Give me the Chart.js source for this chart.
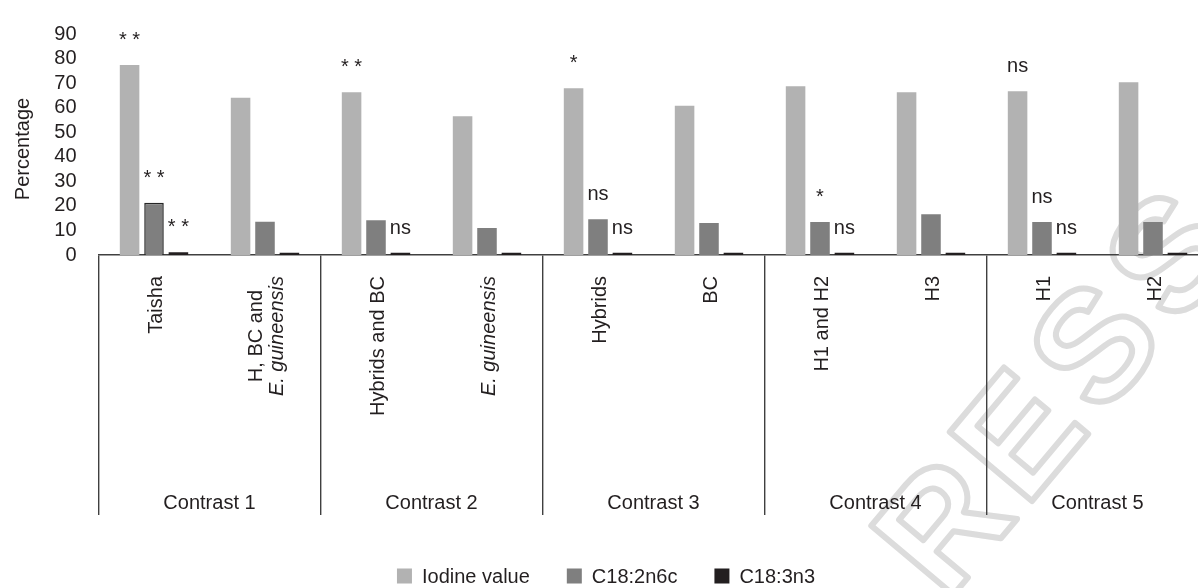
<!DOCTYPE html>
<html>
<head>
<meta charset="utf-8">
<script src="https://cdn.jsdelivr.net/npm/chart.js@4.4.1/dist/chart.umd.min.js"></script>
<style>
  html, body { margin: 0; padding: 0; background: #ffffff; overflow: hidden; }
  #wrap { position: relative; width: 1212px; height: 588px; }
</style>
</head>
<body>
<div id="wrap"><canvas id="chart" width="1212" height="588"></canvas></div>
<script>
// Category labels (multi-line labels use "\n"); lines listed in italicLines are set in italics
const categories = ['Taisha', 'H, BC and\nE. guineensis', 'Hybrids and BC', 'E. guineensis',
                    'Hybrids', 'BC', 'H1 and H2', 'H3', 'H1', 'H2'];
const italicLines = ['E. guineensis'];
const contrasts = ['Contrast 1', 'Contrast 2', 'Contrast 3', 'Contrast 4', 'Contrast 5'];

// Series values (%)
const iodineValue = [77.4, 64.0, 66.3, 56.5, 67.9, 60.8, 68.7, 66.3, 66.7, 70.3];
const c18_2n6c    = [21.3, 13.5, 14.2, 11.0, 14.6, 13.0, 13.4, 16.6, 13.4, 13.4];
const c18_3n3     = [1.1, 0.9, 0.9, 0.9, 0.9, 0.9, 0.9, 0.9, 0.9, 0.9];

// Significance marks per series
const sigIodine = ['* *', '', '* *', '', '*', '', '', '', 'ns', ''];
const sigC18_2  = ['* *', '', '', '', 'ns', '', '*', '', 'ns', ''];
const sigC18_3  = ['* *', '', 'ns', '', 'ns', '', 'ns', '', 'ns', ''];

// Y axis ticks
const yTicks = [0, 10, 20, 30, 40, 50, 60, 70, 80, 90];

const FONT = "'Liberation Sans', Arial, Helvetica, sans-serif";
const TEXT = '#231f20';
const AXIS = '#404040';

const seriesStyle = [
  { label: 'Iodine value', data: iodineValue, color: '#b2b2b2', sig: sigIodine },
  { label: 'C18:2n6c',     data: c18_2n6c,    color: '#7f7f7f', sig: sigC18_2 },
  { label: 'C18:3n3',      data: c18_3n3,     color: '#231f20', sig: sigC18_3 }
];

// Faint outlined stamp lettering in the lower right corner
const stamp = {
  id: 'stamp',
  beforeDraw(chart) {
    const ctx = chart.ctx;
    const letters = ['R', 'E', 'S', 'S'];
    const ang = -50 * Math.PI / 180;
    const step = 118;
    const ox = 950, oy = 532;
    ctx.save();
    ctx.font = 'bold 156px ' + FONT;
    ctx.textAlign = 'center';
    ctx.textBaseline = 'middle';
    ctx.lineJoin = 'round';
    ctx.lineWidth = 6;
    ctx.strokeStyle = '#dcdcdc';
    letters.forEach((ch, k) => {
      const cx = ox + Math.cos(ang) * step * k;
      const cy = oy + Math.sin(ang) * step * k;
      ctx.save();
      ctx.translate(cx, cy);
      ctx.rotate(ang);
      ctx.strokeText(ch, 0, 0);
      ctx.restore();
    });
    ctx.restore();
  }
};

// Draws category labels, contrast group labels, axis title, significance marks and legend
const annotations = {
  id: 'annotations',
  afterDatasetsDraw(chart) {
    const ctx = chart.ctx;
    ctx.save();
    ctx.fillStyle = TEXT;
    ctx.font = '20px ' + FONT;
    ctx.textAlign = 'center';
    ctx.textBaseline = 'alphabetic';
    seriesStyle.forEach((s, d) => {
      const meta = chart.getDatasetMeta(d);
      meta.data.forEach((bar, i) => {
        const t = s.sig[i];
        if (t) ctx.fillText(t, bar.x, bar.y - 19);
      });
    });
    ctx.restore();
  },
  afterDraw(chart) {
    const ctx = chart.ctx;
    const xs = chart.scales.x;
    const area = chart.chartArea;
    ctx.save();
    ctx.fillStyle = TEXT;

    // rotated category labels below the axis
    categories.forEach((lab, i) => {
      const x = xs.getPixelForValue(i) + 2;
      const lines = lab.split('\n');
      let maxW = 0;
      lines.forEach(l => {
        ctx.font = (italicLines.includes(l) ? 'italic ' : '') + '20px ' + FONT;
        maxW = Math.max(maxW, ctx.measureText(l).width);
      });
      ctx.save();
      ctx.translate(x, area.bottom + 21);
      ctx.rotate(-Math.PI / 2);
      ctx.textAlign = 'center';
      ctx.textBaseline = 'middle';
      const lh = 21;
      lines.forEach((l, k) => {
        ctx.font = (italicLines.includes(l) ? 'italic ' : '') + '20px ' + FONT;
        ctx.fillText(l, -maxW / 2, (k - (lines.length - 1) / 2) * lh);
      });
      ctx.restore();
    });

    // contrast group labels
    ctx.font = '20px ' + FONT;
    ctx.textAlign = 'center';
    ctx.textBaseline = 'middle';
    contrasts.forEach((c, g) => {
      const x = (xs.getPixelForValue(2 * g) + xs.getPixelForValue(2 * g + 1)) / 2;
      ctx.fillText(c, x, 503);
    });

    // y axis title
    ctx.save();
    ctx.translate(23, 149);
    ctx.rotate(-Math.PI / 2);
    ctx.fillText('Percentage', 0, 0);
    ctx.restore();

    // legend
    const box = 15, gapBox = 10, gapItem = 37;
    ctx.font = '20px ' + FONT;
    const widths = seriesStyle.map(s => box + gapBox + ctx.measureText(s.label).width);
    const total = widths.reduce((a, b) => a + b, 0) + gapItem * (widths.length - 1);
    let lx = 606 - total / 2;
    const ly = 576;
    ctx.textAlign = 'left';
    seriesStyle.forEach((s, k) => {
      ctx.fillStyle = s.color;
      ctx.fillRect(lx, ly - box / 2, box, box);
      ctx.fillStyle = TEXT;
      ctx.fillText(s.label, lx + box + gapBox, ly + 1);
      lx += widths[k] + gapItem;
    });
    ctx.restore();
  }
};

new Chart(document.getElementById('chart'), {
  type: 'bar',
  data: {
    labels: categories,
    datasets: seriesStyle.map((s, d) => ({
      label: s.label,
      data: s.data,
      backgroundColor: s.color,
      borderColor: '#262626',
      borderWidth: d === 1 ? s.data.map((v, i) => (i === 0 ? 1.5 : 0)) : 0,
      categoryPercentage: 0.66,
      barPercentage: 0.8
    }))
  },
  options: {
    responsive: false,
    animation: false,
    devicePixelRatio: 1,
    layout: { padding: { top: 27, left: 0, right: 3.5, bottom: 0 } },
    plugins: { legend: { display: false }, tooltip: { enabled: false } },
    scales: {
      x: {
        type: 'category',
        offset: true,
        ticks: { display: false },
        grid: {
          display: true,
          offset: true,
          drawOnChartArea: false,
          drawTicks: true,
          tickLength: 260,
          color: c => (c.index !== undefined && c.index % 2 === 0 ? AXIS : 'rgba(0,0,0,0)'),
          tickColor: c => (c.index !== undefined && c.index % 2 === 0 ? AXIS : 'rgba(0,0,0,0)'),
          lineWidth: 1.4
        },
        border: { display: true, color: AXIS, width: 1.4 },
        afterFit(scale) { scale.height = 588 - 255; }
      },
      y: {
        min: 0,
        max: 90,
        afterBuildTicks(scale) { scale.ticks = yTicks.map(v => ({ value: v })); },
        ticks: {
          autoSkip: false,
          padding: 22,
          color: TEXT,
          font: { family: FONT, size: 20 }
        },
        grid: { display: false, drawTicks: false },
        border: { display: false },
        afterFit(scale) { scale.width = 98.5; }
      }
    }
  },
  plugins: [stamp, annotations]
});
</script>
</body>
</html>
